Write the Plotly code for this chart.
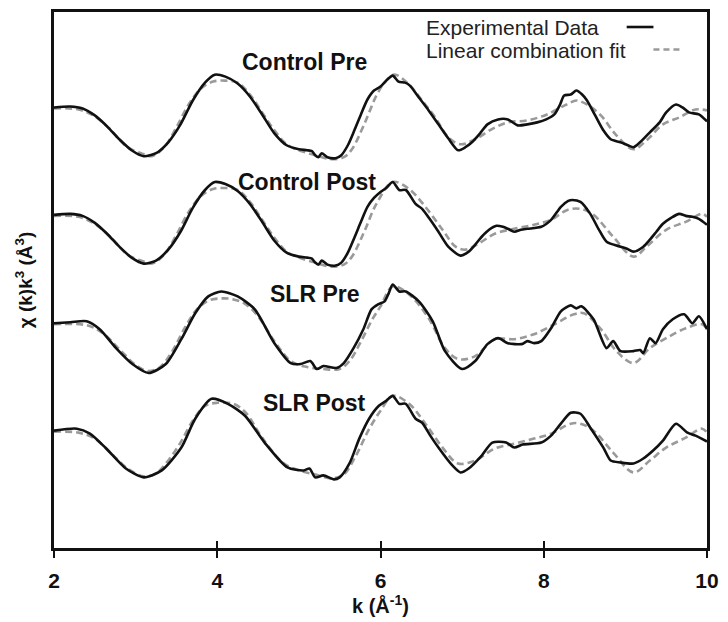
import plotly.graph_objects as go

# ---------------- data (chi(k)k^3, arbitrary units, each curve relative to its own baseline) -------------
# Control Pre
k_cpre_exp = [2.0, 2.2, 2.35, 2.5, 2.65, 2.8, 2.95, 3.1, 3.25, 3.4, 3.55, 3.7, 3.85, 3.97, 4.1, 4.25, 4.4, 4.55,
              4.7, 4.85, 5.0, 5.1, 5.16, 5.2, 5.24, 5.28, 5.35, 5.45, 5.52, 5.6, 5.68, 5.76, 5.84, 5.92,
              6.0, 6.07, 6.15, 6.22, 6.3, 6.36, 6.47, 6.59, 6.71, 6.83, 6.95, 7.04, 7.12, 7.22, 7.31, 7.44,
              7.56, 7.68, 7.8, 7.92, 8.03, 8.13, 8.2, 8.25, 8.33, 8.4, 8.47, 8.53, 8.63, 8.73, 8.82, 8.94,
              9.03, 9.1, 9.18, 9.24, 9.3, 9.42, 9.5, 9.62, 9.7, 9.78, 9.9, 10.0]
chi_cpre_exp = [0, 1, -1, -8, -19, -32, -43, -49, -46, -35, -17, 7, 25, 33, 31, 24, 11, -7,
                -26, -38, -42, -43, -44, -48, -50, -46, -50, -51, -48, -38, -23, -7, 8, 17,
                21, 27, 32, 26, 25, 22, 10, -3, -17, -31, -43, -40, -35, -26, -17, -12,
                -12, -18, -17, -15, -12, -7, 3, 12, 13, 17, 13, 7, -8, -23, -32, -35,
                -38, -40, -35, -30, -25, -15, -5, 3, 0, -5, -7, -14]
k_cpre_fit = [2.0, 2.3, 2.5, 2.7, 2.9, 3.1, 3.2, 3.35, 3.5, 3.65, 3.8, 3.95, 4.1, 4.25, 4.4, 4.55, 4.7, 4.85,
              5.0, 5.2, 5.4, 5.55, 5.65, 5.8, 5.95, 6.05, 6.17, 6.35, 6.5, 6.67, 6.83, 6.98, 7.16, 7.36,
              7.56, 7.8, 8.04, 8.28, 8.4, 8.53, 8.7, 8.89, 9.1, 9.26, 9.46, 9.66, 9.86, 10.0]
chi_cpre_fit = [-1, -2, -9, -23, -40, -47, -49, -40, -20, 3, 19, 26, 27, 25, 13, -5, -23, -37,
                -43, -48, -52, -50, -42, -17, 12, 25, 33, 23, 8, -10, -30, -37, -32, -22,
                -15, -13, -7, 3, 7, 3, -8, -28, -42, -33, -17, -10, -2, -3]

# Control Post
k_cpost_exp = [2.0, 2.2, 2.35, 2.5, 2.65, 2.8, 2.95, 3.1, 3.25, 3.4, 3.55, 3.7, 3.85, 3.97, 4.1, 4.25, 4.4, 4.55,
               4.7, 4.85, 5.0, 5.1, 5.16, 5.2, 5.24, 5.28, 5.35, 5.45, 5.52, 5.6, 5.68, 5.76, 5.84, 5.92,
               6.0, 6.07, 6.15, 6.23, 6.31, 6.43, 6.51, 6.61, 6.71, 6.83, 6.98, 7.08, 7.16, 7.24, 7.33, 7.42,
               7.5, 7.56, 7.64, 7.72, 7.8, 7.97, 8.09, 8.21, 8.3, 8.35, 8.45, 8.57, 8.67, 8.77, 8.94, 9.02,
               9.1, 9.22, 9.3, 9.38, 9.46, 9.56, 9.66, 9.74, 9.82, 9.9, 10.0]
chi_cpost_exp = [0, 1, -1, -8, -19, -32, -43, -49, -46, -35, -17, 7, 25, 33, 31, 24, 11, -7,
                 -26, -38, -42, -43, -44, -48, -50, -46, -50, -51, -48, -38, -23, -7, 8, 17,
                 23, 27, 33, 25, 25, 11, 6, -5, -17, -32, -41, -37, -30, -22, -15, -11,
                 -12, -14, -17, -15, -14, -12, -5, 8, 14, 15, 13, 1, -14, -27, -32, -34,
                 -37, -32, -25, -17, -9, -3, 1, -1, -2, -4, -10]
k_cpost_fit = [2.0, 2.3, 2.5, 2.7, 2.9, 3.1, 3.2, 3.35, 3.5, 3.65, 3.8, 3.95, 4.1, 4.25, 4.4, 4.55, 4.7, 4.85,
               5.0, 5.2, 5.4, 5.55, 5.65, 5.8, 5.95, 6.15, 6.35, 6.55, 6.76, 6.92, 7.04, 7.2, 7.4, 7.64,
               7.88, 8.09, 8.29, 8.45, 8.61, 8.85, 9.1, 9.26, 9.5, 9.74, 9.94, 10.0]
chi_cpost_fit = [-1, -2, -9, -23, -40, -47, -49, -40, -20, 3, 19, 26, 27, 25, 13, -5, -23, -37,
                 -43, -48, -52, -50, -42, -17, 11, 33, 26, 8, -15, -32, -35, -29, -19, -14,
                 -10, -5, 5, 6, 0, -22, -42, -32, -15, -7, 1, -2]

# SLR Pre
k_spre_exp = [2.0, 2.2, 2.4, 2.56, 2.76, 2.96, 3.16, 3.37, 3.56, 3.73, 3.89, 4.05, 4.25, 4.46, 4.7, 4.9,
              5.02, 5.14, 5.22, 5.3, 5.46, 5.55, 5.67, 5.79, 5.89, 5.97, 6.05, 6.1, 6.15, 6.23, 6.31, 6.47,
              6.64, 6.79, 7.0, 7.16, 7.31, 7.44, 7.56, 7.73, 7.8, 7.88, 7.97, 8.09, 8.21, 8.33, 8.4, 8.46,
              8.61, 8.77, 8.85, 8.94, 9.1, 9.18, 9.22, 9.3, 9.37, 9.46, 9.58, 9.72, 9.82, 9.9, 10.0]
chi_spre_exp = [0, 1, 2, -6, -25, -41, -50, -41, -16, 10, 27, 32, 27, 14, -20, -40,
                -41, -38, -46, -43, -45, -40, -25, -6, 14, 19, 22, 30, 39, 32, 32, 22,
                2, -28, -46, -38, -21, -15, -20, -21, -18, -20, -18, -5, 12, 18, 15, 17,
                4, -25, -18, -28, -28, -27, -30, -15, -20, -6, 4, 9, 0, 7, -6]
k_spre_fit = [2.0, 2.4, 2.6, 2.8, 3.0, 3.15, 3.3, 3.45, 3.6, 3.75, 3.9, 4.05, 4.2, 4.35, 4.5, 4.7, 4.9,
              5.1, 5.3, 5.5, 5.62, 5.75, 5.9, 6.0, 6.15, 6.35, 6.59, 6.79, 6.95, 7.16, 7.4, 7.64, 7.88,
              8.13, 8.37, 8.49, 8.7, 8.89, 9.1, 9.3, 9.5, 9.74, 9.94, 10.0]
chi_spre_fit = [-1, -2, -10, -26, -42, -48, -44, -28, -5, 14, 23, 25, 24, 19, 7, -18, -38,
                -44, -46, -46, -38, -20, 4, 17, 37, 29, 5, -25, -36, -33, -16, -16, -11,
                -1, 9, 10, -6, -28, -40, -25, -15, -5, -1, -6]

# SLR Post
k_spost_exp = [2.0, 2.28, 2.44, 2.64, 2.88, 3.1, 3.32, 3.56, 3.73, 3.93, 4.13, 4.34, 4.58, 4.86, 5.06, 5.13,
               5.2, 5.3, 5.43, 5.5, 5.62, 5.74, 5.86, 5.98, 6.07, 6.15, 6.23, 6.31, 6.43, 6.51, 6.61, 6.71,
               6.88, 6.98, 7.08, 7.24, 7.37, 7.54, 7.64, 7.74, 7.97, 8.09, 8.21, 8.33, 8.45, 8.57, 8.73, 8.82,
               8.94, 9.1, 9.22, 9.34, 9.46, 9.62, 9.76, 9.86, 10.0]
chi_spost_exp = [0, 2, -3, -18, -38, -47, -40, -17, 12, 32, 27, 15, -12, -37, -40, -38,
                 -47, -45, -49, -47, -33, -8, 12, 25, 30, 35, 27, 27, 12, 8, -5, -17,
                 -35, -42, -38, -25, -12, -12, -17, -14, -12, -5, 7, 18, 17, 3, -17, -30,
                 -32, -33, -28, -20, -10, 7, -2, -5, -11]
k_spost_fit = [2.0, 2.3, 2.5, 2.7, 2.9, 3.1, 3.25, 3.4, 3.55, 3.7, 3.85, 4.0, 4.2, 4.35, 4.55, 4.8, 5.0,
               5.2, 5.4, 5.55, 5.7, 5.85, 6.0, 6.15, 6.35, 6.55, 6.76, 6.95, 7.16, 7.4, 7.64, 7.88, 8.09,
               8.33, 8.45, 8.61, 8.85, 9.1, 9.3, 9.5, 9.74, 9.94, 10.0]
chi_spost_fit = [-1, -2, -8, -23, -38, -46, -43, -30, -12, 10, 25, 28, 27, 18, -7, -32, -40,
                 -44, -48, -44, -25, 0, 20, 35, 27, 7, -17, -33, -30, -18, -13, -8, -3,
                 7, 7, 0, -22, -42, -30, -17, -7, 2, -2]

sample_names = ["Control Pre", "Control Post", "SLR Pre", "SLR Post"]
vertical_offsets = [443, 335, 226, 118]   # stacking offsets for display

series = [
    (k_cpre_exp, chi_cpre_exp, k_cpre_fit, chi_cpre_fit),
    (k_cpost_exp, chi_cpost_exp, k_cpost_fit, chi_cpost_fit),
    (k_spre_exp, chi_spre_exp, k_spre_fit, chi_spre_fit),
    (k_spost_exp, chi_spost_exp, k_spost_fit, chi_spost_fit),
]

x_ticks = [2, 4, 6, 8, 10]

FONT = "Liberation Sans, Arial, sans-serif"
EXP_COLOR = "#111111"
FIT_COLOR = "#9a9a9a"

fig = go.Figure()
for (ke, ce, kf, cf), off, name in zip(series, vertical_offsets, sample_names):
    fig.add_trace(go.Scatter(
        x=kf, y=[off + v for v in cf], mode="lines", name=name + " fit",
        line=dict(color=FIT_COLOR, width=2.6, dash="7px,4px", shape="spline", smoothing=1.0),
        showlegend=False, hoverinfo="skip"))
    fig.add_trace(go.Scatter(
        x=ke, y=[off + v for v in ce], mode="lines", name=name + " data",
        line=dict(color=EXP_COLOR, width=2.6, shape="spline", smoothing=0.7),
        showlegend=False, hoverinfo="skip"))

# invisible companion trace so the overlaid axis (inner half of the crossing ticks) is drawn
fig.add_trace(go.Scatter(x=k_cpre_fit, y=[vertical_offsets[0] + v for v in chi_cpre_fit],
                         xaxis="x2", mode="lines", line=dict(width=0), opacity=0,
                         showlegend=False, hoverinfo="skip"))

# curve labels
label_pos = [(0.383, 0.907), (0.387, 0.683), (0.399, 0.473), (0.399, 0.271)]
for name, (lx, ly) in zip(sample_names, label_pos):
    fig.add_annotation(x=lx, y=ly, xref="paper", yref="paper", text="<b>%s</b>" % name,
                       showarrow=False, xanchor="center", yanchor="middle",
                       font=dict(family=FONT, size=23, color="#111111"))

# legend (text with key on the right, as in the reference)
fig.add_annotation(x=0.567, y=0.972, xref="paper", yref="paper", text="Experimental Data",
                   showarrow=False, xanchor="left", yanchor="middle",
                   font=dict(family=FONT, size=21, color="#222222"))
fig.add_annotation(x=0.567, y=0.928, xref="paper", yref="paper", text="Linear combination fit",
                   showarrow=False, xanchor="left", yanchor="middle",
                   font=dict(family=FONT, size=21, color="#222222"))
fig.add_shape(type="line", xref="paper", yref="paper", x0=0.877, x1=0.918, y0=0.972, y1=0.972,
              line=dict(color=EXP_COLOR, width=2.6))
fig.add_shape(type="line", xref="paper", yref="paper", x0=0.918, x1=0.961, y0=0.930, y1=0.930,
              line=dict(color=FIT_COLOR, width=2.6, dash="6px,4px"))

fig.update_layout(
    width=728, height=622,
    margin=dict(l=54, r=13, t=9, b=74),
    paper_bgcolor="white", plot_bgcolor="white",
    font=dict(family=FONT, color="#111111"),
    showlegend=False,
    xaxis=dict(
        range=[2, 10], tickvals=x_ticks, ticktext=["<b>%d</b>" % t for t in x_ticks],
        tickfont=dict(family=FONT, size=21, color="#111111"),
        ticks="outside", ticklen=7, tickwidth=2, tickcolor="#111111", ticklabelstandoff=5,
        showline=True, linewidth=2.5, linecolor="#111111", mirror=True,
        showgrid=False, zeroline=False,
        title=dict(text="<b>k (Å<sup>-1</sup>)</b>", font=dict(family=FONT, size=20, color="#111111"), standoff=6),
    ),
    xaxis2=dict(overlaying="x", anchor="y", side="bottom", range=[2, 10], tickvals=x_ticks,
                ticks="inside", ticklen=7, tickwidth=2, tickcolor="#111111",
                showticklabels=False, showline=False, showgrid=False, zeroline=False),
    yaxis=dict(
        range=[0, 539], showticklabels=False, ticks="",
        showline=True, linewidth=2.5, linecolor="#111111", mirror=True,
        showgrid=False, zeroline=False,
        title=dict(text="<b>χ (k)k<sup>3</sup> (Å<sup>3</sup>)</b>", font=dict(family=FONT, size=19, color="#111111"), standoff=14),
    ),
)

fig.write_html("out.html")
